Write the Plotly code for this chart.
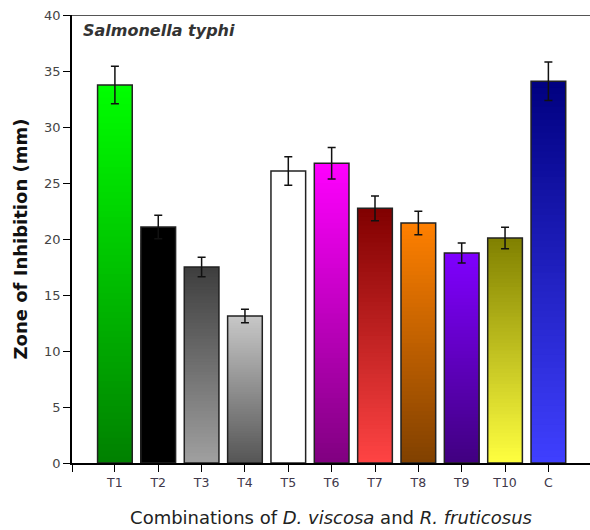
import plotly.graph_objects as go

categories = ["T1", "T2", "T3", "T4", "T5", "T6", "T7", "T8", "T9", "T10", "C"]
values = [33.75, 21.07, 17.5, 13.13, 26.07, 26.76, 22.74, 21.43, 18.75, 20.09, 34.08]
errors = [1.67, 1.05, 0.88, 0.6, 1.27, 1.4, 1.1, 1.05, 0.9, 0.97, 1.72]
top_colors = [(0, 255, 0), (0, 0, 0), (62, 62, 62), (200, 200, 200), (255, 255, 255),
              (255, 0, 255), (128, 0, 0), (255, 128, 0), (128, 0, 255), (128, 128, 0), (0, 0, 128)]
bottom_colors = [(0, 128, 0), (0, 0, 0), (160, 160, 160), (85, 85, 85), (255, 255, 255),
                 (128, 0, 128), (255, 68, 68), (128, 64, 0), (64, 0, 128), (255, 255, 64), (64, 64, 255)]

xpos = list(range(len(categories)))
N = 60
BW = 0.8
FONT = "DejaVu Sans, Liberation Sans, Arial, sans-serif"


def mix(c1, c2, t):
    return "rgb(%d,%d,%d)" % tuple(round(a + (b - a) * t) for a, b in zip(c1, c2))


fig = go.Figure()
# gradient fill: overlapping bars from full height downward, each coloured for its top band
for k in range(N):
    frac = (N - k) / N
    fig.add_trace(go.Bar(
        x=xpos,
        y=[v * frac for v in values],
        width=BW,
        marker=dict(color=[mix(bc, tc, frac - 0.5 / N) for tc, bc in zip(top_colors, bottom_colors)],
                    line=dict(width=0)),
        showlegend=False, hoverinfo="skip",
    ))

# outline + error bars
fig.add_trace(go.Bar(
    x=xpos, y=values, width=BW,
    marker=dict(color="rgba(0,0,0,0)", line=dict(color="#222222", width=1.5)),
    error_y=dict(type="data", array=errors, visible=True, color="#111111", thickness=1.5, width=4),
    showlegend=False,
))

fig.update_layout(
    width=590, height=530,
    margin=dict(l=72, r=0, t=15, b=67),
    barmode="overlay",
    plot_bgcolor="white", paper_bgcolor="white",
    font=dict(family=FONT, color="#333333"),
    xaxis=dict(
        range=[-0.99, 10.96],
        tickvals=[-0.99] + xpos, ticktext=[""] + categories,
        ticks="outside", ticklen=7, tickwidth=1.3, tickcolor="black",
        showline=True, linecolor="black", linewidth=1.5,
        showgrid=False, zeroline=False,
        tickfont=dict(size=12.5, color="#40384a"),
        title=dict(text="Combinations of <i>D. viscosa</i> and <i>R. fruticosus</i>",
                   font=dict(size=18, color="#222222"), standoff=23),
    ),
    yaxis=dict(
        range=[0, 40], tickvals=[0, 5, 10, 15, 20, 25, 30, 35, 40],
        ticks="outside", ticklen=7, tickwidth=1.3, tickcolor="black",
        showline=True, linecolor="black", linewidth=1.5,
        showgrid=False, zeroline=False,
        tickfont=dict(size=13, color="#444444"),
        title=dict(text="<b>Zone of Inhibition (mm)</b>",
                   font=dict(size=18, color="#111111"), standoff=12),
    ),
    shapes=[dict(type="line", xref="paper", yref="y", x0=0, x1=1, y0=40, y1=40,
                 line=dict(color="#555555", width=2))],
    annotations=[dict(text="<b><i>Salmonella typhi</i></b>", xref="paper", yref="paper",
                      x=0.017, y=0.99, xanchor="left", yanchor="top", showarrow=False,
                      font=dict(size=16, color="#333333"))],
)

fig.write_html("out.html")
